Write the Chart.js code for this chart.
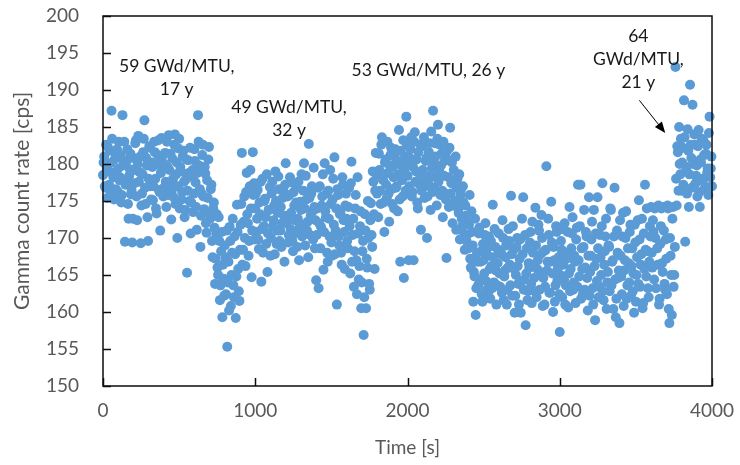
<html>
<head>
    <script src="https://cdn.jsdelivr.net/npm/chart.js@4.4.3/dist/chart.umd.min.js"></script>
    <style>
        body { margin: 0; background: #fff; }
    </style>
</head>
<body>
    <canvas id="mychart" width="740" height="465"></canvas>
    <script>
        // time [s] and gamma count rate [cps] (two interleaved passes)
        time = [
            0, 8, 16, 24, 32, 40, 48, 56, 64, 72, 80, 88, 96, 104, 112, 120, 128, 136, 144, 152, 160, 168, 176, 184, 192,
            200, 208, 216, 224, 232, 240, 248, 256, 264, 272, 280, 288, 296, 304, 312, 320, 328, 336, 344, 352, 360, 368, 376, 384, 392,
            400, 408, 416, 424, 432, 440, 448, 456, 464, 472, 480, 488, 496, 504, 512, 520, 528, 536, 544, 552, 560, 568, 576, 584, 592,
            600, 608, 616, 624, 632, 640, 648, 656, 664, 672, 680, 688, 696, 704, 712, 720, 728, 736, 744, 752, 760, 768, 776, 784, 792,
            800, 808, 816, 824, 832, 840, 848, 856, 864, 872, 880, 888, 896, 904, 912, 920, 928, 936, 944, 952, 960, 968, 976, 984, 992,
            1000, 1008, 1016, 1024, 1032, 1040, 1048, 1056, 1064, 1072, 1080, 1088, 1096, 1104, 1112, 1120, 1128, 1136, 1144, 1152, 1160, 1168, 1176, 1184, 1192,
            1200, 1208, 1216, 1224, 1232, 1240, 1248, 1256, 1264, 1272, 1280, 1288, 1296, 1304, 1312, 1320, 1328, 1336, 1344, 1352, 1360, 1368, 1376, 1384, 1392,
            1400, 1408, 1416, 1424, 1432, 1440, 1448, 1456, 1464, 1472, 1480, 1488, 1496, 1504, 1512, 1520, 1528, 1536, 1544, 1552, 1560, 1568, 1576, 1584, 1592,
            1600, 1608, 1616, 1624, 1632, 1640, 1648, 1656, 1664, 1672, 1680, 1688, 1696, 1704, 1712, 1720, 1728, 1736, 1744, 1752, 1760, 1768, 1776, 1784, 1792,
            1800, 1808, 1816, 1824, 1832, 1840, 1848, 1856, 1864, 1872, 1880, 1888, 1896, 1904, 1912, 1920, 1928, 1936, 1944, 1952, 1960, 1968, 1976, 1984, 1992,
            2000, 2008, 2016, 2024, 2032, 2040, 2048, 2056, 2064, 2072, 2080, 2088, 2096, 2104, 2112, 2120, 2128, 2136, 2144, 2152, 2160, 2168, 2176, 2184, 2192,
            2200, 2208, 2216, 2224, 2232, 2240, 2248, 2256, 2264, 2272, 2280, 2288, 2296, 2304, 2312, 2320, 2328, 2336, 2344, 2352, 2360, 2368, 2376, 2384, 2392,
            2400, 2408, 2416, 2424, 2432, 2440, 2448, 2456, 2464, 2472, 2480, 2488, 2496, 2504, 2512, 2520, 2528, 2536, 2544, 2552, 2560, 2568, 2576, 2584, 2592,
            2600, 2608, 2616, 2624, 2632, 2640, 2648, 2656, 2664, 2672, 2680, 2688, 2696, 2704, 2712, 2720, 2728, 2736, 2744, 2752, 2760, 2768, 2776, 2784, 2792,
            2800, 2808, 2816, 2824, 2832, 2840, 2848, 2856, 2864, 2872, 2880, 2888, 2896, 2904, 2912, 2920, 2928, 2936, 2944, 2952, 2960, 2968, 2976, 2984, 2992,
            3000, 3008, 3016, 3024, 3032, 3040, 3048, 3056, 3064, 3072, 3080, 3088, 3096, 3104, 3112, 3120, 3128, 3136, 3144, 3152, 3160, 3168, 3176, 3184, 3192,
            3200, 3208, 3216, 3224, 3232, 3240, 3248, 3256, 3264, 3272, 3280, 3288, 3296, 3304, 3312, 3320, 3328, 3336, 3344, 3352, 3360, 3368, 3376, 3384, 3392,
            3400, 3408, 3416, 3424, 3432, 3440, 3448, 3456, 3464, 3472, 3480, 3488, 3496, 3504, 3512, 3520, 3528, 3536, 3544, 3552, 3560, 3568, 3576, 3584, 3592,
            3600, 3608, 3616, 3624, 3632, 3640, 3648, 3656, 3664, 3672, 3680, 3688, 3696, 3704, 3712, 3720, 3728, 3736, 3744, 3752, 3760, 3768, 3776, 3784, 3792,
            3800, 3808, 3816, 3824, 3832, 3840, 3848, 3856, 3864, 3872, 3880, 3888, 3896, 3904, 3912, 3920, 3928, 3936, 3944, 3952, 3960, 3968, 3976, 3984, 3992, 4000
        ];
        rate = [
            178.5, 181.0, 176.8, 179.5, 182.3, 177.2, 180.1, 187.2, 178.8, 175.2, 181.5, 179.0, 176.3, 183.0, 178.2, 174.8, 186.6, 180.4, 169.5, 177.6, 182.0, 172.6, 179.3, 175.9, 169.4,
            180.8, 177.4, 183.2, 172.4, 183.8, 178.9, 169.3, 176.0, 181.6, 185.9, 174.6, 179.8, 169.6, 182.4, 177.0, 180.2, 175.1, 183.0, 178.0, 173.3, 181.2, 176.5, 171.0, 183.5, 179.4,
            176.8, 181.5, 174.2, 179.6, 183.9, 177.3, 172.5, 180.7, 175.5, 184.0, 178.6, 170.0, 182.1, 174.0, 179.0, 176.2, 181.8, 172.8, 177.9, 165.3, 180.5, 175.0, 170.6, 178.3, 173.5,
            182.0, 177.5, 171.1, 186.6, 179.8, 168.8, 176.0, 182.6, 173.9, 178.7, 170.7, 175.4, 182.3, 172.6, 177.2, 167.4, 174.8, 163.8, 170.5, 166.0, 172.8, 161.6, 168.2, 159.3, 164.5,
            169.0, 162.4, 155.3, 166.8, 171.5, 160.8, 168.0, 163.6, 170.2, 159.2, 174.5, 165.8, 161.5, 171.8, 181.5, 168.4, 175.6, 166.2, 178.8, 172.0, 169.6, 179.2, 164.7, 181.6, 177.4,
            174.0, 170.8, 176.5, 168.5, 173.2, 164.1, 178.0, 171.6, 175.3, 169.2, 165.4, 173.8, 176.9, 170.0, 177.6, 172.4, 167.8, 175.0, 171.0, 178.3, 169.6, 174.2, 172.0, 176.4, 166.8,
            180.1, 173.0, 169.4, 175.8, 171.2, 177.5, 168.2, 174.4, 170.6, 176.8, 172.6, 167.0, 174.9, 178.6, 171.8, 180.1, 169.0, 175.2, 172.2, 182.7, 170.4, 176.0, 173.6, 179.5, 168.6,
            164.3, 174.0, 163.2, 177.0, 171.5, 175.6, 165.7, 180.1, 172.8, 168.0, 176.4, 170.2, 174.6, 167.6, 178.0, 180.9, 171.0, 161.0, 175.8, 169.0, 173.4, 166.4, 177.2, 170.8, 174.4,
            172.6, 168.6, 176.8, 165.2, 180.3, 170.4, 163.4, 174.0, 167.0, 178.2, 164.4, 171.6, 160.5, 168.2, 156.9, 173.2, 160.5, 166.0, 170.0, 163.0, 174.7, 168.8, 177.6, 165.8, 181.5,
            176.0, 172.8, 179.2, 174.6, 183.6, 177.8, 170.8, 180.6, 175.4, 178.8, 172.2, 181.2, 176.6, 179.6, 174.0, 182.0, 177.0, 173.6, 184.6, 166.8, 179.8, 175.6, 164.6, 181.0, 186.4,
            178.4, 167.0, 180.8, 183.6, 176.2, 167.0, 184.3, 179.0, 174.8, 181.6, 177.2, 171.1, 182.4, 178.0, 175.4, 180.4, 170.0, 177.6, 182.8, 173.8, 179.4, 187.2, 176.8, 181.0, 174.4,
            185.3, 179.2, 175.8, 181.4, 172.8, 178.4, 176.0, 167.3, 180.6, 174.2, 184.9, 177.4, 172.0, 179.2, 175.0, 171.1, 178.0, 173.4, 169.8, 176.6, 171.6, 174.8, 168.4, 173.0, 170.4,
            168.6, 175.8, 166.0, 170.8, 161.4, 164.8, 159.6, 168.0, 163.6, 171.4, 166.8, 162.4, 169.2, 165.2, 172.0, 163.0, 167.6, 170.2, 161.8, 166.2, 174.5, 164.0, 168.8, 161.0, 166.6,
            170.6, 163.4, 167.8, 172.4, 161.6, 165.6, 169.0, 163.0, 171.2, 166.4, 175.7, 162.2, 168.4, 159.9, 165.0, 170.0, 163.8, 167.2, 159.9, 172.6, 175.5, 164.4, 158.2, 168.6, 162.8,
            166.0, 170.8, 161.2, 168.0, 164.6, 174.1, 162.0, 167.0, 171.0, 165.4, 173.1, 160.8, 168.2, 163.4, 179.7, 166.8, 170.4, 162.6, 174.9, 165.2, 168.8, 161.4, 171.6, 164.2, 167.4,
            157.3, 169.6, 162.0, 166.4, 172.0, 163.6, 168.0, 160.6, 174.2, 165.8, 170.6, 163.0, 167.6, 161.2, 171.4, 177.2, 164.8, 177.2, 168.6, 162.4, 173.8, 166.0, 170.2, 160.2, 175.5,
            165.4, 169.8, 163.2, 173.8, 158.9, 167.2, 175.5, 162.0, 170.4, 165.0, 177.4, 161.6, 168.2, 172.6, 164.0, 169.0, 162.8, 173.8, 166.8, 160.4, 176.8, 159.3, 171.0, 164.6, 158.5,
            167.6, 162.4, 173.4, 165.6, 170.0, 161.8, 168.6, 164.0, 171.8, 166.2, 162.8, 159.9, 169.4, 165.0, 172.4, 175.1, 163.4, 167.8, 160.5, 170.6, 177.2, 164.8, 168.2, 162.0, 171.6,
            174.2, 166.0, 170.8, 174.0, 163.2, 168.6, 174.4, 161.8, 171.6, 166.6, 174.2, 163.8, 169.8, 162.4, 174.0, 158.5, 167.6, 159.6, 174.2, 165.0, 193.1, 174.4, 181.6, 185.0, 178.6,
            176.4, 182.2, 188.6, 169.5, 179.6, 184.7, 174.2, 190.7, 180.8, 188.0, 177.0, 182.6, 178.4, 175.6, 184.6, 174.2, 180.2, 177.8, 183.2, 176.6, 181.4, 178.8, 175.8, 186.4, 179.4, 177.0
        ];
        time2 = [
            4, 12, 20, 28, 36, 44, 52, 60, 68, 76, 84, 92, 100, 108, 116, 124, 132, 140, 148, 156, 164, 172, 180, 188, 196,
            204, 212, 220, 228, 236, 244, 252, 260, 268, 276, 284, 292, 300, 308, 316, 324, 332, 340, 348, 356, 364, 372, 380, 388, 396,
            404, 412, 420, 428, 436, 444, 452, 460, 468, 476, 484, 492, 500, 508, 516, 524, 532, 540, 548, 556, 564, 572, 580, 588, 596,
            604, 612, 620, 628, 636, 644, 652, 660, 668, 676, 684, 692, 700, 708, 716, 724, 732, 740, 748, 756, 764, 772, 780, 788, 796,
            804, 812, 820, 828, 836, 844, 852, 860, 868, 876, 884, 892, 900, 908, 916, 924, 932, 940, 948, 956, 964, 972, 980, 988, 996,
            1004, 1012, 1020, 1028, 1036, 1044, 1052, 1060, 1068, 1076, 1084, 1092, 1100, 1108, 1116, 1124, 1132, 1140, 1148, 1156, 1164, 1172, 1180, 1188, 1196,
            1204, 1212, 1220, 1228, 1236, 1244, 1252, 1260, 1268, 1276, 1284, 1292, 1300, 1308, 1316, 1324, 1332, 1340, 1348, 1356, 1364, 1372, 1380, 1388, 1396,
            1404, 1412, 1420, 1428, 1436, 1444, 1452, 1460, 1468, 1476, 1484, 1492, 1500, 1508, 1516, 1524, 1532, 1540, 1548, 1556, 1564, 1572, 1580, 1588, 1596,
            1604, 1612, 1620, 1628, 1636, 1644, 1652, 1660, 1668, 1676, 1684, 1692, 1700, 1708, 1716, 1724, 1732, 1740, 1748, 1756, 1764, 1772, 1780, 1788, 1796,
            1804, 1812, 1820, 1828, 1836, 1844, 1852, 1860, 1868, 1876, 1884, 1892, 1900, 1908, 1916, 1924, 1932, 1940, 1948, 1956, 1964, 1972, 1980, 1988, 1996,
            2004, 2012, 2020, 2028, 2036, 2044, 2052, 2060, 2068, 2076, 2084, 2092, 2100, 2108, 2116, 2124, 2132, 2140, 2148, 2156, 2164, 2172, 2180, 2188, 2196,
            2204, 2212, 2220, 2228, 2236, 2244, 2252, 2260, 2268, 2276, 2284, 2292, 2300, 2308, 2316, 2324, 2332, 2340, 2348, 2356, 2364, 2372, 2380, 2388, 2396,
            2404, 2412, 2420, 2428, 2436, 2444, 2452, 2460, 2468, 2476, 2484, 2492, 2500, 2508, 2516, 2524, 2532, 2540, 2548, 2556, 2564, 2572, 2580, 2588, 2596,
            2604, 2612, 2620, 2628, 2636, 2644, 2652, 2660, 2668, 2676, 2684, 2692, 2700, 2708, 2716, 2724, 2732, 2740, 2748, 2756, 2764, 2772, 2780, 2788, 2796,
            2804, 2812, 2820, 2828, 2836, 2844, 2852, 2860, 2868, 2876, 2884, 2892, 2900, 2908, 2916, 2924, 2932, 2940, 2948, 2956, 2964, 2972, 2980, 2988, 2996,
            3004, 3012, 3020, 3028, 3036, 3044, 3052, 3060, 3068, 3076, 3084, 3092, 3100, 3108, 3116, 3124, 3132, 3140, 3148, 3156, 3164, 3172, 3180, 3188, 3196,
            3204, 3212, 3220, 3228, 3236, 3244, 3252, 3260, 3268, 3276, 3284, 3292, 3300, 3308, 3316, 3324, 3332, 3340, 3348, 3356, 3364, 3372, 3380, 3388, 3396,
            3404, 3412, 3420, 3428, 3436, 3444, 3452, 3460, 3468, 3476, 3484, 3492, 3500, 3508, 3516, 3524, 3532, 3540, 3548, 3556, 3564, 3572, 3580, 3588, 3596,
            3604, 3612, 3620, 3628, 3636, 3644, 3652, 3660, 3668, 3676, 3684, 3692, 3700, 3708, 3716, 3724, 3732, 3740, 3748, 3756, 3764, 3772, 3780, 3788, 3796,
            3804, 3812, 3820, 3828, 3836, 3844, 3852, 3860, 3868, 3876, 3884, 3892, 3900, 3908, 3916, 3924, 3932, 3940, 3948, 3956, 3964, 3972, 3980, 3988, 3996
        ];
        rate2 = [
            180.2, 177.0, 182.6, 175.4, 179.0, 181.8, 176.0, 183.4, 178.2, 180.6, 176.6, 182.0, 179.4, 177.8, 181.2, 175.8, 179.8, 183.0, 177.2, 180.4, 174.6, 178.4, 181.4, 176.4, 172.6,
            179.2, 182.8, 175.6, 180.0, 177.6, 181.0, 174.4, 178.6, 183.4, 176.8, 180.8, 172.8, 178.0, 182.2, 175.2, 179.6, 177.0, 181.6, 174.0, 180.0, 183.2, 176.2, 178.8, 181.0, 175.6,
            180.0, 177.6, 183.0, 175.8, 179.2, 181.4, 176.4, 178.0, 182.6, 174.6, 180.2, 177.0, 183.4, 179.6, 175.2, 181.0, 177.6, 173.8, 180.6, 176.4, 178.8, 182.2, 174.8, 179.2, 176.0,
            180.4, 174.2, 178.8, 183.0, 176.6, 173.0, 181.2, 175.6, 179.6, 172.0, 177.8, 180.6, 173.4, 176.6, 169.6, 174.0, 171.4, 167.2, 173.2, 165.0, 169.6, 163.6, 170.8, 166.4, 162.2,
            167.4, 171.0, 164.0, 160.2, 169.6, 165.0, 172.6, 162.0, 167.8, 164.8, 170.8, 162.8, 168.4, 174.6, 166.4, 172.2, 170.0, 176.2, 173.2, 167.6, 177.0, 174.0, 171.0, 175.8, 169.8,
            176.0, 172.6, 169.8, 174.8, 177.6, 171.2, 168.0, 175.0, 172.8, 178.6, 170.6, 173.8, 167.6, 176.0, 171.6, 174.4, 179.0, 169.2, 173.4, 176.6, 171.0, 168.8, 175.4, 173.0, 177.2,
            172.0, 175.6, 170.4, 178.2, 173.4, 169.6, 176.2, 172.4, 174.8, 168.8, 177.6, 171.4, 173.8, 170.2, 176.4, 174.0, 178.4, 171.0, 167.4, 175.4, 173.0, 177.0, 169.8, 174.2, 172.4,
            170.4, 176.8, 172.0, 168.6, 174.4, 178.6, 170.8, 173.6, 176.0, 166.8, 172.6, 179.2, 169.4, 175.2, 171.8, 167.8, 174.0, 176.6, 170.2, 173.2, 168.0, 178.2, 172.4, 165.8, 176.0,
            169.6, 174.2, 171.6, 177.4, 166.8, 172.6, 168.2, 175.8, 162.4, 170.6, 166.2, 173.6, 164.0, 169.6, 162.0, 171.0, 167.2, 175.0, 163.8, 172.4, 170.4, 179.0, 173.2, 176.4, 178.6,
            179.0, 181.4, 176.4, 182.6, 178.0, 174.8, 180.2, 177.2, 183.0, 176.0, 179.8, 182.2, 174.6, 178.2, 181.0, 176.8, 180.4, 178.6, 175.2, 181.8, 177.8, 183.2, 179.4, 176.4, 182.6,
            180.0, 177.0, 182.0, 175.6, 179.6, 183.0, 177.6, 180.6, 174.0, 178.8, 182.6, 176.4, 179.2, 183.6, 177.0, 180.8, 175.6, 181.6, 178.4, 184.4, 176.2, 180.2, 182.8, 178.2, 183.4,
            177.6, 182.6, 179.8, 176.4, 183.0, 180.4, 175.2, 181.8, 178.2, 182.2, 176.0, 180.2, 177.8, 174.4, 181.0, 176.8, 174.0, 178.6, 175.8, 172.6, 177.0, 170.6, 174.4, 169.6, 172.2,
            171.8, 167.2, 173.6, 169.0, 165.4, 172.6, 163.2, 166.8, 170.6, 164.4, 168.2, 161.4, 167.0, 170.4, 164.2, 168.6, 162.2, 165.8, 169.6, 163.2, 167.4, 171.2, 165.6, 163.6, 168.4,
            165.2, 168.2, 162.6, 170.0, 164.8, 167.4, 161.0, 166.0, 169.6, 163.6, 167.8, 171.6, 165.8, 162.2, 168.8, 166.2, 161.0, 169.8, 164.2, 167.8, 163.0, 170.4, 165.2, 161.6, 166.6,
            169.4, 163.8, 172.2, 166.4, 162.8, 169.0, 165.8, 171.8, 163.0, 167.8, 170.0, 164.6, 161.0, 168.4, 165.6, 172.6, 162.6, 166.8, 169.4, 160.0, 167.0, 163.6, 170.8, 166.0, 162.4,
            165.0, 168.4, 171.2, 164.4, 161.0, 167.2, 170.8, 165.2, 162.8, 168.6, 172.8, 164.0, 166.8, 169.8, 163.4, 167.0, 171.6, 161.8, 165.8, 168.8, 163.0, 170.8, 164.6, 167.6, 162.2,
            167.6, 172.2, 161.0, 166.2, 170.6, 164.2, 168.6, 163.4, 167.4, 171.6, 162.8, 166.4, 170.2, 160.4, 165.4, 168.8, 174.0, 163.6, 167.0, 170.2, 164.4, 161.8, 168.0, 165.6, 172.4,
            164.8, 170.2, 160.8, 167.0, 173.6, 163.6, 166.6, 170.8, 162.2, 168.6, 165.2, 171.8, 161.4, 167.4, 163.8, 169.8, 166.4, 172.6, 161.2, 165.8, 168.4, 174.0, 163.2, 166.8, 170.2,
            168.0, 172.4, 164.4, 170.0, 174.2, 166.4, 161.0, 169.2, 174.0, 165.4, 171.0, 163.0, 167.2, 174.4, 160.4, 170.0, 165.0, 172.6, 163.4, 168.8, 178.0, 182.4, 176.4, 180.0, 183.4,
            180.2, 177.2, 183.6, 179.0, 176.0, 181.8, 178.6, 182.6, 176.8, 180.0, 184.0, 177.4, 179.8, 182.4, 176.2, 180.6, 183.4, 178.0, 181.2, 177.0, 182.6, 179.4, 184.2, 178.2, 181.0
        ];

        // burnup / cooling time labels: lines of text, anchor in data units
        noteText = [["59 GWd/MTU,", "17 y"], ["49 GWd/MTU,", "32 y"], ["53 GWd/MTU, 26 y"], ["64", "GWd/MTU,", "21 y"]];
        noteX = [484, 1222, 2137, 3516];
        noteY = [193.2, 187.6, 192.7, 197.2];
        arrowFrom = [3523, 188.6];
        arrowTo = [3693, 184.2];

        pts = [];
        for (i = 0; i < time.length; i++) pts.push({ x: time[i], y: rate[i] });
        for (i = 0; i < time2.length; i++) pts.push({ x: time2[i], y: rate2[i] });

        fontName = "Lato, 'Open Sans', sans-serif";
        grey = '#595959';

        boxPlugin = {
            id: 'box',
            afterDatasetsDraw(chart) {
                ctx = chart.ctx;
                a = chart.chartArea;
                xs = chart.scales.x;
                ys = chart.scales.y;
                ctx.save();
                ctx.strokeStyle = '#0d0d0d';
                ctx.lineWidth = 1.5;
                ctx.strokeRect(a.left, a.top, a.right - a.left, a.bottom - a.top);
                ctx.beginPath();
                ys.ticks.forEach(t => {
                    p = Math.round(ys.getPixelForValue(t.value)) + 0.5;
                    ctx.moveTo(a.left, p);
                    ctx.lineTo(a.left + 8, p);
                });
                xs.ticks.forEach(t => {
                    p = Math.round(xs.getPixelForValue(t.value)) + 0.5;
                    ctx.moveTo(p, a.bottom);
                    ctx.lineTo(p, a.bottom - 8);
                });
                ctx.stroke();

                // notes
                ctx.fillStyle = '#1a1a1a';
                ctx.font = "17.5px " + fontName;
                ctx.textAlign = 'center';
                ctx.textBaseline = 'middle';
                for (n = 0; n < noteText.length; n++) {
                    px = xs.getPixelForValue(noteX[n]);
                    py = ys.getPixelForValue(noteY[n]);
                    noteText[n].forEach((s, k) => ctx.fillText(s, px, py + k * 23));
                }

                // arrow
                x1 = xs.getPixelForValue(arrowFrom[0]); y1 = ys.getPixelForValue(arrowFrom[1]);
                x2 = xs.getPixelForValue(arrowTo[0]); y2 = ys.getPixelForValue(arrowTo[1]);
                ang = Math.atan2(y2 - y1, x2 - x1);
                ctx.strokeStyle = '#000';
                ctx.lineWidth = 1;
                ctx.beginPath();
                ctx.moveTo(x1, y1);
                ctx.lineTo(x2 - 8 * Math.cos(ang), y2 - 8 * Math.sin(ang));
                ctx.stroke();
                ctx.fillStyle = '#000';
                ctx.beginPath();
                ctx.moveTo(x2, y2);
                ctx.lineTo(x2 - 11 * Math.cos(ang) + 4.5 * Math.sin(ang), y2 - 11 * Math.sin(ang) - 4.5 * Math.cos(ang));
                ctx.lineTo(x2 - 11 * Math.cos(ang) - 4.5 * Math.sin(ang), y2 - 11 * Math.sin(ang) + 4.5 * Math.cos(ang));
                ctx.closePath();
                ctx.fill();
                ctx.restore();
            }
        };

        config = {
            type: 'scatter',
            data: {
                datasets: [{
                    label: 'count rate',
                    data: pts,
                    backgroundColor: '#5B9BD5',
                    borderColor: '#5B9BD5',
                    borderWidth: 0,
                    pointRadius: 5,
                    pointHoverRadius: 5,
                    clip: false
                }]
            },
            options: {
                responsive: false,
                animation: false,
                events: [],
                layout: { padding: { top: 16, right: 28, bottom: 0, left: 0 } },
                plugins: { legend: { display: false }, tooltip: { enabled: false } },
                scales: {
                    x: {
                        type: 'linear',
                        min: 0,
                        max: 4000,
                        afterFit: s => { s.height = 79; s.paddingLeft = 0; s.paddingRight = 0; },
                        grid: { display: false, drawTicks: false },
                        border: { display: false },
                        ticks: { stepSize: 1000, padding: 13, color: grey, font: { family: fontName, size: 19 }, callback: v => String(v) },
                        title: { display: true, text: 'Time [s]', color: grey, font: { family: fontName, size: 19 }, padding: { top: 0, bottom: 6 } }
                    },
                    y: {
                        min: 150,
                        max: 200,
                        afterFit: s => { s.width = 103; s.paddingTop = 0; s.paddingBottom = 0; },
                        grid: { display: false, drawTicks: false },
                        border: { display: false },
                        ticks: { stepSize: 5, padding: 24, color: grey, font: { family: fontName, size: 19 } },
                        title: { display: true, text: 'Gamma count rate [cps]', color: grey, font: { family: fontName, size: 21 }, padding: { top: 10, bottom: 0 } }
                    }
                }
            },
            plugins: [boxPlugin]
        };
        new Chart(document.querySelector('#mychart'), config);
    </script>
</body>
</html>
